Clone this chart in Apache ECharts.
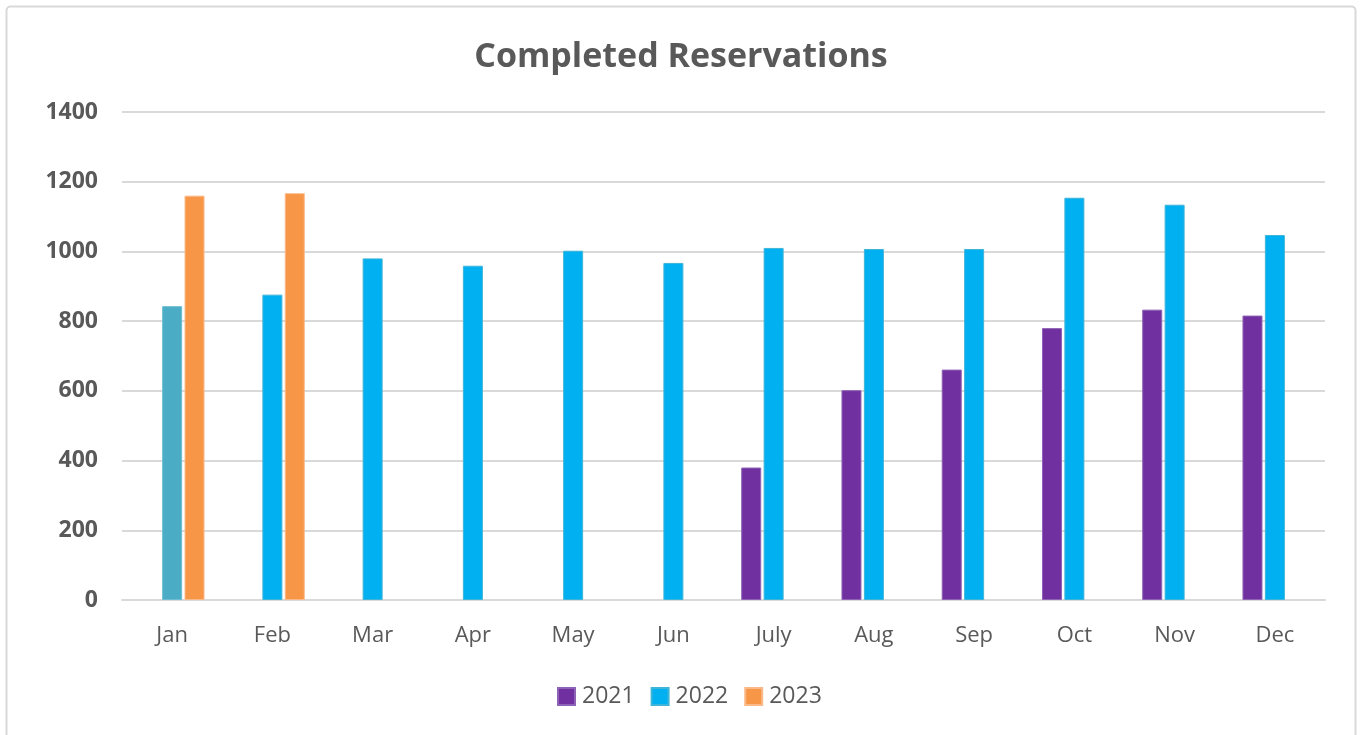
<!DOCTYPE html>
<html>
<head>
<meta charset="utf-8">
<script src="https://cdn.jsdelivr.net/npm/echarts@6/dist/echarts.min.js"></script>
<style>
html,body{margin:0;padding:0;background:#fff;}
#chart{width:1362px;height:735px;}
</style>
</head>
<body>
<div id="chart"></div>
<script>
const title = 'Completed Reservations';
const months = ['Jan','Feb','Mar','Apr','May','Jun','July','Aug','Sep','Oct','Nov','Dec'];
const seriesNames = ['2021','2022','2023'];
const values2021 = [null,null,null,null,null,null,380,602,661,780,833,816];
const values2022 = [843,876,980,959,1002,967,1010,1007,1007,1154,1134,1047];
const values2023 = [1160,1167,null,null,null,null,null,null,null,null,null,null];
const yTicks = {min:0, max:1400, interval:200};

const colors = ['#7030a0','#00b0f0','#f79646'];
const borders = ['#8e62b4','#3fb4d8','#fbb98a'];

const chart = echarts.init(document.getElementById('chart'), null, {renderer:'canvas'});
const fontFamily = '"Open Sans", "Noto Sans", sans-serif';

const data2022 = values2022.map((v,i)=> i===0 ? {value:v, itemStyle:{color:'#4bacc6', borderColor:'#6cbdd3'}} : v);

const mk = (name, data, idx) => ({
  name: name,
  type: 'bar',
  data: data,
  barWidth: 20,
  barGap: '12%',
  itemStyle: {color: colors[idx], borderColor: borders[idx], borderWidth: 1},
  emphasis: {disabled: true}
});

chart.setOption({
  animation: false,
  backgroundColor: '#ffffff',
  color: colors,
  graphic: [{
    type: 'rect',
    shape: {x: 6.5, y: 6.5, width: 1349, height: 760, r: 4},
    style: {fill: 'none', stroke: '#d9d9d9', lineWidth: 2},
    z: -10
  }],
  title: {
    text: title,
    left: 'center',
    top: 35,
    textStyle: {fontFamily: fontFamily, fontSize: 34, fontWeight: 'bold', color: '#595959'}
  },
  legend: {
    data: seriesNames,
    bottom: 22,
    left: 552,
    itemWidth: 17,
    itemHeight: 17,
    itemGap: 16,
    icon: 'rect',
    textStyle: {fontFamily: fontFamily, fontSize: 23, color: '#595959', padding: [0,0,0,2]}
  },
  grid: {left: 122, right: 37, top: 112, bottom: 135, containLabel: false},
  xAxis: {
    type: 'category',
    data: months,
    axisLine: {lineStyle: {color: '#d9d9d9', width: 2}},
    axisTick: {show: false},
    axisLabel: {fontFamily: fontFamily, fontSize: 22, color: '#595959', margin: 25}
  },
  yAxis: {
    type: 'value',
    min: yTicks.min, max: yTicks.max, interval: yTicks.interval,
    axisLine: {show: false},
    axisTick: {show: false},
    splitLine: {lineStyle: {color: '#d9d9d9', width: 2}},
    axisLabel: {fontFamily: fontFamily, fontSize: 23, fontWeight: 'bold', color: '#595959', margin: 24,
      formatter: v => String(v)}
  },
  series: [mk('2021', values2021, 0), mk('2022', data2022, 1), mk('2023', values2023, 2)]
});
</script>
</body>
</html>
